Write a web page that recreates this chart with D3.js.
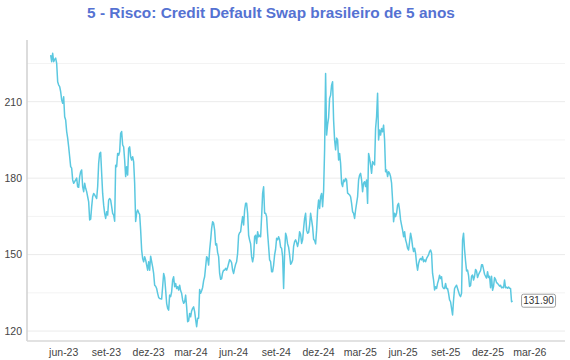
<!DOCTYPE html>
<html><head><meta charset="utf-8">
<script src="https://cdn.jsdelivr.net/npm/d3@7"></script>
<style>
body{margin:0;background:#fff;}
svg{display:block;font-family:"Liberation Sans",Arial,sans-serif;}
</style></head>
<body><svg id="chart" width="570" height="360"></svg>
<script>
const title = "5 - Risco: Credit Default Swap brasileiro de 5 anos";
const startDate = "2023-05-05";
const endDate = "2026-01-24";
const cdsValues = [
228.3,225.7,229,225.7,226.6,227.1,225,217.8,216.5,215.9,213.9,210.7,209.4,211.9,204.1,202.8,198.3,195.7,192.3,188.4,
184.5,183.9,179.3,178,178.6,179.3,180,176.6,176.4,180.6,182.5,183.2,176.6,174.7,178,176,174.7,172.7,170.7,163.6,
163.9,168.8,172.7,174,173.4,172.7,172,176.6,185.8,189.7,190.1,181.9,174,169.4,166.2,164.2,166.8,165.5,171.4,172,
171.4,168.8,166.2,165.5,163.1,185.1,184.5,189.7,189,190.4,197.6,198.3,193,192.3,187.1,180.6,184.5,181.2,191.7,192.3,
188.4,187.1,188.4,186.4,178,163,166.4,167.5,166.5,165.8,159.6,151.8,148.5,147.2,149.2,147.9,145.9,143.9,147.2,143.9,
149.4,147.2,145.2,142.6,138,137.6,136.7,134.8,133.2,132.8,132.7,132.6,137.4,142.6,141,136.1,130.9,128.9,128.2,134.1,
133.5,135.4,140,141.3,137.4,138.7,136.7,137.4,136.1,138,135.8,134.8,132.2,130.9,131.5,134.1,129.5,123.7,124,126.9,
125.6,127.9,128.9,129.5,127.6,124.6,121.7,125,125,136.3,134.8,135.8,137.1,139.8,141.3,145.2,149.2,148.5,145.9,151.8,
155.7,160.3,162.9,162.3,159.6,153.8,154.2,150.8,149.2,142.6,140.3,140.6,142.9,143.9,143.9,144.6,143.9,145,146.5,148,
147.6,146.8,143.9,142.6,144.6,146.2,147.2,150.5,157.6,158.6,159,162.3,164.9,161.6,167.5,170.1,170.1,166.2,157.6,155.7,
154.2,149.2,147.2,149.2,157,157.6,154.4,159,157,157.6,157,164.9,174,176.6,166.2,166.2,164.9,158.4,153.2,147.9,
147.2,143.3,143.3,145.9,149.9,152.1,156.4,155.8,157,155.8,152.9,152.5,149.2,136.7,150.5,158.4,157,154.2,152.9,149.9,
146.2,146.8,147.9,153.2,155.1,155.8,154.7,153.2,155.1,159,158,154.4,155.8,160.3,164.2,166.2,159.6,158.4,158.6,161.6,
166.2,163.6,160.9,156,155.5,154.2,159.6,167.5,171.4,168.1,172.7,174,168.8,175,191,221.1,196.9,201,203.7,211.3,
212.5,216.5,217.8,202.8,195,191.1,195.7,195,187.1,189.7,185.8,178,176.7,179.3,178.6,179.9,179.3,174.1,173.8,173.4,
172.7,170.1,166.8,166.2,164.2,167.5,170.1,172.7,179.3,181.2,181.9,179.3,174.7,178,178.6,176.7,179.3,170.1,189.7,187.8,
185.2,181.9,186.5,185.8,185.2,199.5,204.1,213.3,195,198.9,196.9,199.5,198.2,200.8,195,182.5,183.2,180.6,182.5,181.9,
180.6,178,171.4,162.9,166.2,164.9,166.2,169.4,170.1,167.5,163.6,161.6,159.6,157,159,155.8,154.4,152.5,151.8,155.1,
158.4,156.4,153.2,151.2,152.5,150.5,146.5,143.9,146.5,147.9,148.5,147.9,149.2,147.2,147.9,147.2,148.5,149.2,149.9,151.2,
151.8,150.5,142.6,140,136.1,137.4,136.7,138.7,140,141.9,140.6,141.3,137.4,136.7,136.7,138.7,136.7,136.7,134.8,132.2,
131.5,128.9,126.3,132.2,136.7,137.4,138,136.7,135.4,134.1,133.5,134.8,155.7,158.4,152,147.5,143.6,143.9,141.8,137.5,
137.8,141.5,142,140,141.5,144.2,143.5,141,142.2,143,143.7,146,146,144.2,142.3,141.5,140.8,143.3,141,141.5,
137,141.5,136,137.5,141,140.3,139,138.7,138.2,137.6,138,137,137.2,137,140,137,137.2,136.8,137.3,136.8,
136.7,131.5,131.9
];
const yMajorTicks = [120, 150, 180, 210];
const yGridTicks = [120, 135, 150, 165, 180, 195, 210, 225];
const xTickDates = ["2023-06-01","2023-09-01","2023-12-01","2024-03-01","2024-06-01","2024-09-01",
  "2024-12-01","2025-03-01","2025-06-01","2025-09-01","2025-12-01","2026-03-01"];
const monthNames = ["jan","fev","mar","abr","mai","jun","jul","ago","set","out","nov","dez"];
const xDomain = ["2023-03-15","2026-05-17"];
const yDomain = [116.1, 234.2];

(function () {
const parse = d3.utcParse("%Y-%m-%d");
const t0 = parse(startDate).getTime(), t1 = parse(endDate).getTime();
const n = cdsValues.length;
const data = cdsValues.map((v, i) => ({date: new Date(t0 + i * (t1 - t0) / (n - 1)), value: v}));

const svg = d3.select("#chart");
const mLeft = 27, mRight = 565, mTop = 40, mBottom = 341;
const x = d3.scaleUtc().domain(xDomain.map(parse)).range([mLeft, mRight]);
const y = d3.scaleLinear().domain(yDomain).range([mBottom, mTop]);

svg.append("text").attr("x", 271).attr("y", 17.5).attr("text-anchor", "middle")
  .attr("font-size", 15.4).attr("font-weight", "bold").attr("fill", "#5572d2").text(title);

// grid
svg.append("g").selectAll("line").data(yGridTicks).join("line")
  .attr("x1", mLeft).attr("x2", mRight)
  .attr("y1", d => y(d)).attr("y2", d => y(d))
  .attr("stroke", d => yMajorTicks.includes(d) ? "#ebebeb" : "#f3f3f3")
  .attr("stroke-width", 1);

// y axis
const yAxis = svg.append("g").attr("transform", `translate(${mLeft},0)`)
  .call(d3.axisLeft(y).tickValues(yMajorTicks).tickSize(0).tickPadding(5));
yAxis.select(".domain").remove();
yAxis.selectAll("text").attr("font-size", 10.5).attr("fill", "#444").attr("font-family", "Liberation Sans, Arial, sans-serif");
svg.append("line").attr("x1", mLeft).attr("x2", mLeft).attr("y1", mTop).attr("y2", mBottom)
  .attr("stroke", "#d0d0d0").attr("stroke-width", 1.5);

// x axis
const fmt = d => monthNames[d.getUTCMonth()] + "-" + String(d.getUTCFullYear()).slice(2);
const xAxis = svg.append("g").attr("transform", `translate(0,${mBottom})`)
  .call(d3.axisBottom(x).tickValues(xTickDates.map(parse)).tickFormat(fmt).tickSize(0).tickPadding(8));
xAxis.select(".domain").remove();
xAxis.selectAll("text").attr("font-size", 10.5).attr("fill", "#444").attr("font-family", "Liberation Sans, Arial, sans-serif");
svg.append("line").attr("x1", mLeft).attr("x2", mRight).attr("y1", mBottom).attr("y2", mBottom)
  .attr("stroke", "#d8d8d8").attr("stroke-width", 1.5);

// line
const line = d3.line().x(d => x(d.date)).y(d => y(d.value));
svg.append("path").datum(data).attr("d", line)
  .attr("fill", "none").attr("stroke", "#5bc8e0").attr("stroke-width", 1.5).attr("stroke-linejoin", "round");

// end label
const last = data[data.length - 1];
const lbl = svg.append("g").attr("transform", `translate(${x(last.date) + 9},${y(last.value)})`);
lbl.append("rect").attr("x", 0).attr("y", -6.5).attr("width", 34).attr("height", 13)
  .attr("rx", 2).attr("fill", "#fff").attr("stroke", "#888").attr("stroke-width", 0.8);
lbl.append("text").attr("x", 17).attr("y", 3.6).attr("text-anchor", "middle")
  .attr("font-size", 10).attr("fill", "#333").text(last.value.toFixed(2));
})();
</script></body></html>
